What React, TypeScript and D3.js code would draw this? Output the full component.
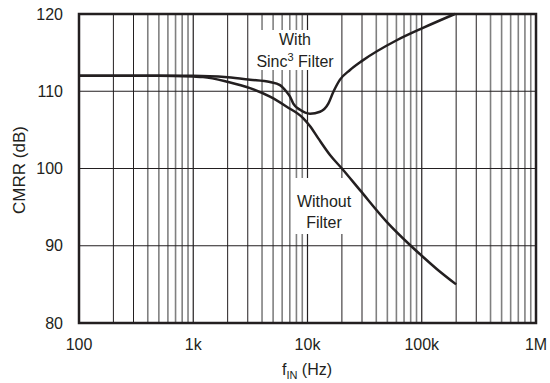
import React from "react";
import * as d3 from "d3";

const W = 550;
const H = 383;
const M = { left: 79, right: 14, top: 14, bottom: 60 };

const xTicks = [100, 1000, 10000, 100000, 1000000];
const xTickLabels = ["100", "1k", "10k", "100k", "1M"];
const yTicks = [80, 90, 100, 110, 120];

const withFreq = [100, 500, 1000, 2000, 3138, 4696, 5745, 6576, 7030, 7510, 8600, 10520, 12870, 15210, 16820, 19250, 23550, 29810, 60380, 102500, 195000];
const withDb = [112, 112, 112, 111.8, 111.5, 111.2, 110.8, 109.9, 109.3, 108.4, 107.6, 107.1, 107.35, 108.4, 109.9, 111.5, 112.75, 113.9, 116.6, 118.2, 120];

const withoutFreq = [100, 500, 1000, 1217, 2027, 3138, 4696, 6576, 9190, 10500, 12430, 15740, 20000, 28800, 49350, 78900, 99900, 135200, 200000];
const withoutDb = [112, 112, 111.9, 111.85, 111.2, 110.4, 109.3, 108.0, 106.5, 105.5, 103.9, 101.75, 100.0, 97.2, 93.1, 90.1, 88.7, 87.0, 85.0];

const FONT = "'Liberation Sans', Arial, Helvetica, sans-serif";
const INK = "#231f20";

export default function App() {
  const x = d3.scaleLog().domain([100, 1000000]).range([M.left, W - M.right]);
  const y = d3.scaleLinear().domain([80, 120]).range([H - M.bottom, M.top]);

  const line = d3
    .line<[number, number]>()
    .x((d) => x(d[0]))
    .y((d) => y(d[1]))
    .curve(d3.curveMonotoneX);

  const withPts = withFreq.map((f, i) => [f, withDb[i]] as [number, number]);
  const withoutPts = withoutFreq.map((f, i) => [f, withoutDb[i]] as [number, number]);

  const minor: number[] = [];
  const major: number[] = [];
  for (let dec = 100; dec < 1000000; dec *= 10) {
    for (let k = 2; k <= 9; k++) {
      if (k <= 3) major.push(dec * k);
      else minor.push(dec * k);
    }
  }

  const x0 = M.left;
  const x1 = W - M.right;
  const y0 = M.top;
  const y1 = H - M.bottom;

  return (
    <div style={{ position: "fixed", left: 0, top: 0 }}>
      <svg width={W} height={H} style={{ display: "block", background: "#fff" }}>
        <rect x={0} y={0} width={W} height={H} fill="#fff" />
        {/* minor grid */}
        {minor.map((f) => (
          <line key={"mi" + f} x1={x(f)} x2={x(f)} y1={y0} y2={y1} stroke="#808080" strokeWidth={1.6} />
        ))}
        {major.map((f) => (
          <line key={"ma" + f} x1={x(f)} x2={x(f)} y1={y0} y2={y1} stroke={INK} strokeWidth={1} />
        ))}
        {xTicks.slice(1, -1).map((f) => (
          <line key={"dx" + f} x1={x(f)} x2={x(f)} y1={y0} y2={y1} stroke={INK} strokeWidth={1.2} />
        ))}
        {yTicks.slice(1, -1).map((v) => (
          <line key={"gy" + v} x1={x0} x2={x1} y1={y(v)} y2={y(v)} stroke={INK} strokeWidth={1.2} />
        ))}
        {/* label boxes */}
        <rect x={252} y={30} width={87} height={40} fill="#fff" />
        <rect x={292} y={178} width={55} height={56} fill="#fff" />
        {/* curves */}
        <path d={line(withoutPts) || ""} fill="none" stroke={INK} strokeWidth={2.5} />
        <path d={line(withPts) || ""} fill="none" stroke={INK} strokeWidth={2.5} />
        {/* frame */}
        <rect x={x0} y={y0} width={x1 - x0} height={y1 - y0} fill="none" stroke={INK} strokeWidth={2.5} />
        {/* annotations */}
        <g fontFamily={FONT} fontSize={16} fill={INK} textAnchor="middle">
          <text x={295} y={45}>With</text>
          <text x={295} y={66.5}>
            Sinc<tspan dy={-6} fontSize={11}>3</tspan>
            <tspan dy={6}> Filter</tspan>
          </text>
          <text x={324} y={207}>Without</text>
          <text x={324} y={228}>Filter</text>
        </g>
        {/* y ticks */}
        <g fontFamily={FONT} fontSize={16} fill={INK}>
          {yTicks.map((v) => (
            <text key={"yt" + v} x={63} y={y(v)} textAnchor="end" dominantBaseline="central">
              {v}
            </text>
          ))}
          {xTicks.map((f, i) => (
            <text key={"xt" + f} x={x(f)} y={349.5} textAnchor="middle">
              {xTickLabels[i]}
            </text>
          ))}
          <text transform={`translate(24.5,170) rotate(-90)`} textAnchor="middle" fontSize={17}>
            CMRR (dB)
          </text>
          <text x={307} y={375} textAnchor="middle">
            f<tspan dy={4} fontSize={11}>IN</tspan>
            <tspan dy={-4}> (Hz)</tspan>
          </text>
        </g>
      </svg>
    </div>
  );
}
